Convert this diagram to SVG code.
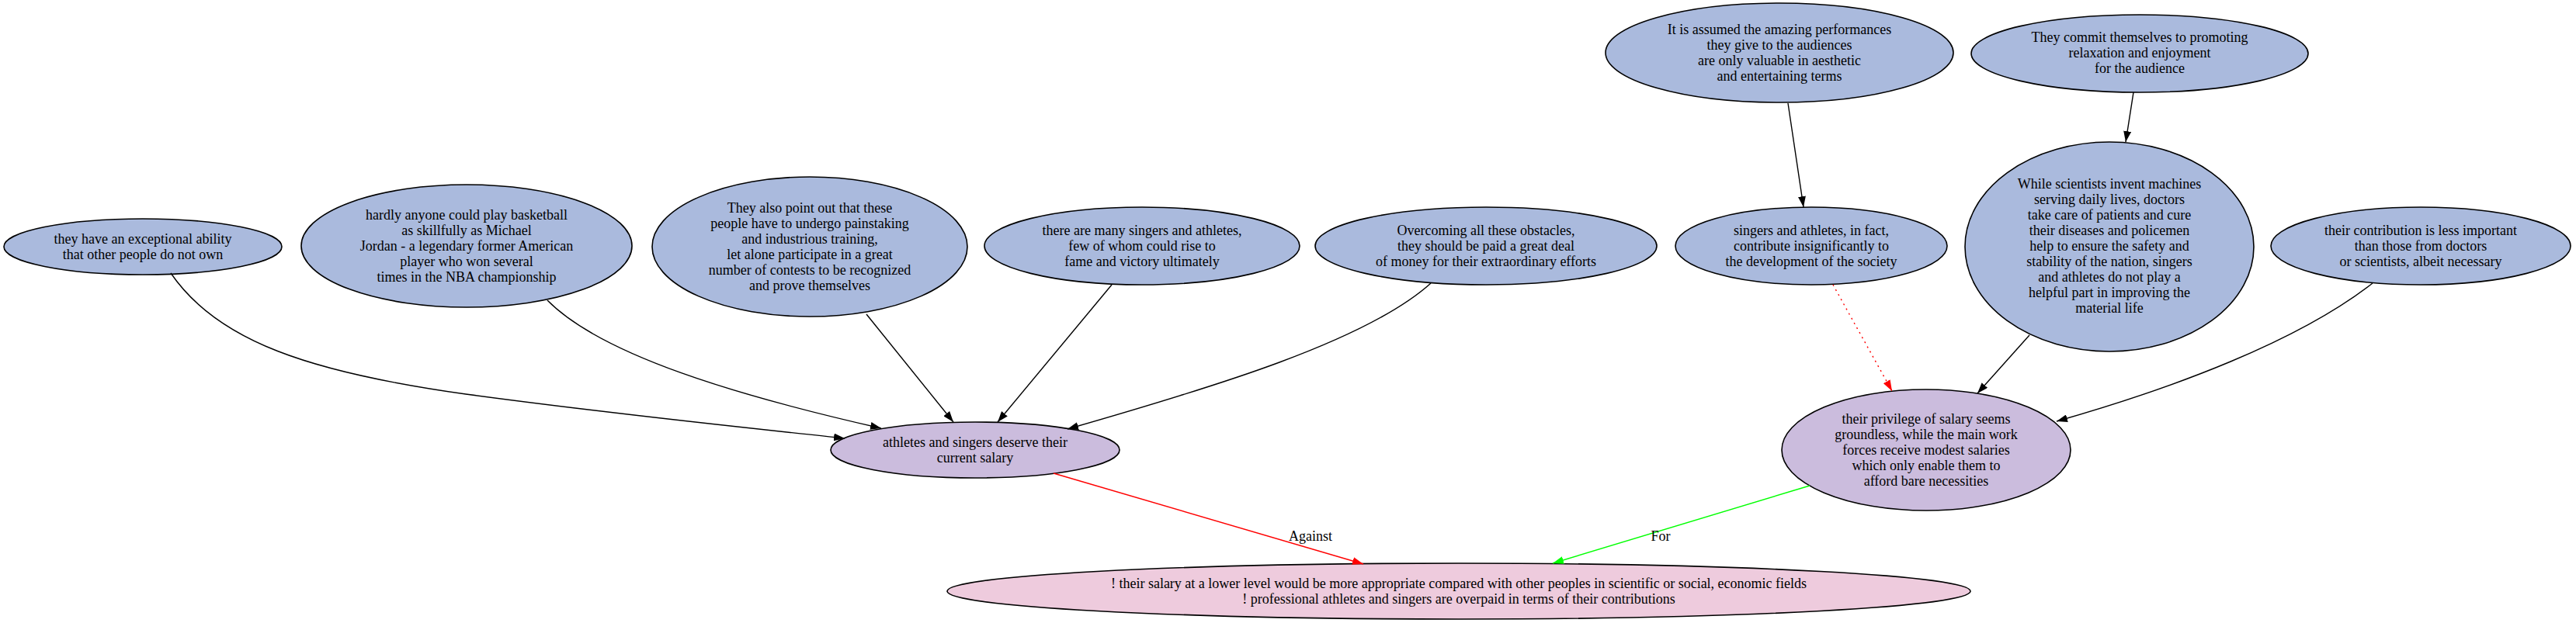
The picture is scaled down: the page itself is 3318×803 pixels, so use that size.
<svg xmlns="http://www.w3.org/2000/svg" width="3318" height="803" viewBox="0 0 3318 803">
<style>
  .n ellipse { stroke: #000; stroke-width: 1.6; }
  .blue ellipse { fill: #aabadd; }
  .purple ellipse { fill: #cbbcdd; }
  .pink ellipse { fill: #eecbdd; }
  text { font-family: "Liberation Serif", "Times New Roman", serif; font-size: 18px; fill: #000; text-anchor: middle; }
  .e { fill: none; stroke: #000; stroke-width: 1.4; }
  .red { stroke: #ff0000; }
  .green { stroke: #00ff00; }
  .dot { stroke-dasharray: 2 5; }
</style>
<defs>
  <marker id="ab" viewBox="0 0 14 10" refX="14" refY="5" markerWidth="14" markerHeight="10" markerUnits="userSpaceOnUse" orient="auto">
    <path d="M0,0 L14,5 L0,10 z" fill="#000"/>
  </marker>
  <marker id="ar" viewBox="0 0 14 10" refX="14" refY="5" markerWidth="14" markerHeight="10" markerUnits="userSpaceOnUse" orient="auto">
    <path d="M0,0 L14,5 L0,10 z" fill="#ff0000"/>
  </marker>
  <marker id="ag" viewBox="0 0 14 10" refX="14" refY="5" markerWidth="14" markerHeight="10" markerUnits="userSpaceOnUse" orient="auto">
    <path d="M0,0 L14,5 L0,10 z" fill="#00ff00"/>
  </marker>
</defs>
<rect width="3318" height="803" fill="#fff"/>

<g id="nodeA" class="n blue">
  <ellipse cx="184" cy="318" rx="179" ry="36"/>
  <text x="184" y="314">they have an exceptional ability</text>
  <text x="184" y="334">that other people do not own</text>
</g>
<g id="nodeB" class="n blue">
  <ellipse cx="601" cy="317" rx="213" ry="79"/>
  <text x="601" y="283">hardly anyone could play basketball</text>
  <text x="601" y="303">as skillfully as Michael</text>
  <text x="601" y="323">Jordan - a legendary former American</text>
  <text x="601" y="343">player who won several</text>
  <text x="601" y="363">times in the NBA championship</text>
</g>
<g id="nodeC" class="n blue">
  <ellipse cx="1043" cy="318" rx="203" ry="90"/>
  <text x="1043" y="274">They also point out that these</text>
  <text x="1043" y="294">people have to undergo painstaking</text>
  <text x="1043" y="314">and industrious training,</text>
  <text x="1043" y="334">let alone participate in a great</text>
  <text x="1043" y="354">number of contests to be recognized</text>
  <text x="1043" y="374">and prove themselves</text>
</g>
<g id="nodeD" class="n blue">
  <ellipse cx="1471" cy="317" rx="203" ry="50"/>
  <text x="1471" y="303">there are many singers and athletes,</text>
  <text x="1471" y="323">few of whom could rise to</text>
  <text x="1471" y="343">fame and victory ultimately</text>
</g>
<g id="nodeE" class="n blue">
  <ellipse cx="1914" cy="317" rx="220" ry="50"/>
  <text x="1914" y="303">Overcoming all these obstacles,</text>
  <text x="1914" y="323">they should be paid a great deal</text>
  <text x="1914" y="343">of money for their extraordinary efforts</text>
</g>
<g id="nodeF" class="n blue">
  <ellipse cx="2333" cy="317" rx="175" ry="50"/>
  <text x="2333" y="303">singers and athletes, in fact,</text>
  <text x="2333" y="323">contribute insignificantly to</text>
  <text x="2333" y="343">the development of the society</text>
</g>
<g id="nodeG" class="n blue">
  <ellipse cx="2292" cy="68" rx="224" ry="64"/>
  <text x="2292" y="44">It is assumed the amazing performances</text>
  <text x="2292" y="64">they give to the audiences</text>
  <text x="2292" y="84">are only valuable in aesthetic</text>
  <text x="2292" y="104">and entertaining terms</text>
</g>
<g id="nodeH" class="n blue">
  <ellipse cx="2756" cy="69" rx="217" ry="50"/>
  <text x="2756" y="54">They commit themselves to promoting</text>
  <text x="2756" y="74">relaxation and enjoyment</text>
  <text x="2756" y="94">for the audience</text>
</g>
<g id="nodeI" class="n blue">
  <ellipse cx="2717" cy="318" rx="186" ry="135"/>
  <text x="2717" y="243">While scientists invent machines</text>
  <text x="2717" y="263">serving daily lives, doctors</text>
  <text x="2717" y="283">take care of patients and cure</text>
  <text x="2717" y="303">their diseases and policemen</text>
  <text x="2717" y="323">help to ensure the safety and</text>
  <text x="2717" y="343">stability of the nation, singers</text>
  <text x="2717" y="363">and athletes do not play a</text>
  <text x="2717" y="383">helpful part in improving the</text>
  <text x="2717" y="403">material life</text>
</g>
<g id="nodeJ" class="n blue">
  <ellipse cx="3118" cy="317" rx="193" ry="50"/>
  <text x="3118" y="303">their contribution is less important</text>
  <text x="3118" y="323">than those from doctors</text>
  <text x="3118" y="343">or scientists, albeit necessary</text>
</g>
<g id="nodeK" class="n purple">
  <ellipse cx="1256" cy="580" rx="186" ry="36"/>
  <text x="1256" y="576">athletes and singers deserve their</text>
  <text x="1256" y="596">current salary</text>
</g>
<g id="nodeL" class="n purple">
  <ellipse cx="2481" cy="580" rx="186" ry="78"/>
  <text x="2481" y="546">their privilege of salary seems</text>
  <text x="2481" y="566">groundless, while the main work</text>
  <text x="2481" y="586">forces receive modest salaries</text>
  <text x="2481" y="606">which only enable them to</text>
  <text x="2481" y="626">afford bare necessities</text>
</g>
<g id="nodeM" class="n pink">
  <ellipse cx="1879" cy="762" rx="659" ry="36"/>
  <text x="1879" y="758">! their salary at a lower level would be more appropriate compared with other peoples in scientific or social, economic fields</text>
  <text x="1879" y="778">! professional athletes and singers are overpaid in terms of their contributions</text>
</g>

<g id="connectors">
  <path class="e" d="M220,352 C280,440 400,480 600,508 C800,535 950,550 1088,565" marker-end="url(#ab)"/>
  <path class="e" d="M705,387 C775,458 950,510 1135,552" marker-end="url(#ab)"/>
  <path class="e" d="M1116,405 L1228,544" marker-end="url(#ab)"/>
  <path class="e" d="M1432,367 L1285,544" marker-end="url(#ab)"/>
  <path class="e" d="M1843,365 C1760,440 1560,500 1375,553" marker-end="url(#ab)"/>
  <path class="e" d="M2303,133 L2323,267" marker-end="url(#ab)"/>
  <path class="e" d="M2748,119 L2738,183" marker-end="url(#ab)"/>
  <path class="e red dot" d="M2361,367 L2437,504" marker-end="url(#ar)"/>
  <path class="e" d="M2614,432 L2547,507" marker-end="url(#ab)"/>
  <path class="e" d="M3056,365 C2960,440 2800,500 2649,543" marker-end="url(#ab)"/>
  <path class="e red" d="M1357,610 L1756,727" marker-end="url(#ar)"/>
  <path class="e green" d="M2331,626 L2000,726" marker-end="url(#ag)"/>
  <text x="1688" y="697">Against</text>
  <text x="2139" y="697">For</text>
</g>
</svg>
